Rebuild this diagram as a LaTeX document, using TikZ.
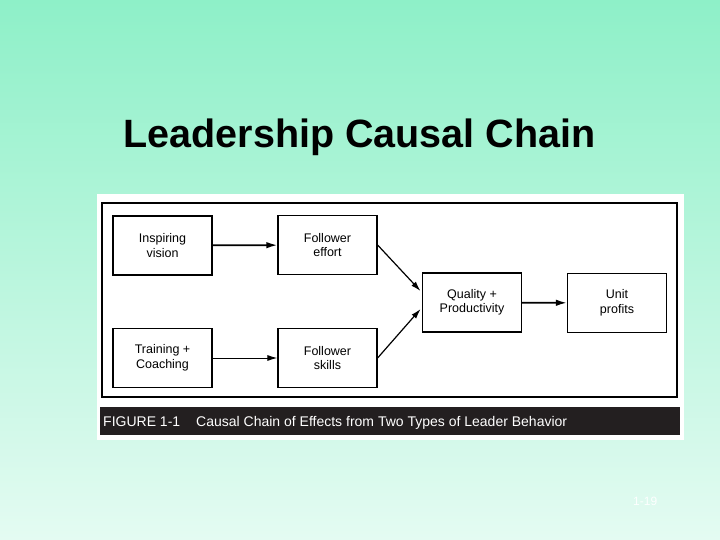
\documentclass[tikz,border=0pt]{standalone}
\usepackage{fontspec}
\setmainfont{Liberation Sans}
\usetikzlibrary{arrows.meta,positioning}
\definecolor{slidetop}{RGB}{142,240,200}
\definecolor{slidebot}{RGB}{228,251,242}
\definecolor{capbar}{RGB}{35,31,32}

\begin{document}
\begin{tikzpicture}[
    x=1pt, y=-1pt,
    cause/.style={draw, line width=1.2pt, minimum width=99pt, minimum height=59pt, align=center, font=\fontsize{12.5}{14.5}\selectfont, inner sep=1pt},
    thick arr/.style={line width=1.7pt, -{Latex[length=11pt,width=6.5pt]}},
    thin arr/.style={line width=1pt, -{Latex[length=10pt,width=6pt]}}
]
    \useasboundingbox (0,0) rectangle (720,540);
    % Slide background
    \shade[top color=slidetop, bottom color=slidebot] (0,0) rectangle (720,540);

    % Title
    \node[font=\bfseries\fontsize{39.5}{44}\selectfont, anchor=base] (title) at (359.5,148) {Leadership Causal Chain};

    % Figure panel
    \fill[white] (97,194) rectangle (684,440);
    \draw[line width=1.3pt] (102,203) rectangle (677,397);
    \fill[capbar] (100,407) rectangle (680,435);

    % Boxes
    \node[cause] (vision) at (162.5,245.5) {Inspiring\\vision};
    \node[cause] (effort) at (327.5,245) {Follower\\effort};
    \node[cause] (training) at (162.5,358) {Training +\\Coaching};
    \node[cause] (skills) at (327.5,358) {Follower\\skills};
    \node[cause] (quality) at (472,302.5) {Quality +\\Productivity};
    \node[cause] (profits) at (617,303) {Unit\\profits};

    \draw[thick arr] (vision) -- (effort);
    \draw[thin arr] (training) -- (skills);
    \draw[thin arr, line width=1.2pt, shorten >=2pt] (effort.east) -- ([yshift=10pt]quality.west);
    \draw[thin arr, line width=1.2pt, shorten >=2pt] (skills.east) -- ([yshift=-5pt]quality.west);
    \draw[thick arr] (quality) -- (profits);

    % Caption
    \node[white, anchor=base west, font=\fontsize{14}{16}\selectfont, inner sep=0pt] (figno) at (103,426) {FIGURE 1-1};
    \node[white, anchor=base west, font=\fontsize{14}{16}\selectfont, inner sep=0pt] (caption) at (196,426) {Causal Chain of Effects from Two Types of Leader Behavior};

    % Page number
    \node[color=white!92!slidebot, font=\fontsize{12}{14}\selectfont, anchor=base west, inner sep=0pt] (pageno) at (633,505) {1-19};
\end{tikzpicture}
\end{document}
